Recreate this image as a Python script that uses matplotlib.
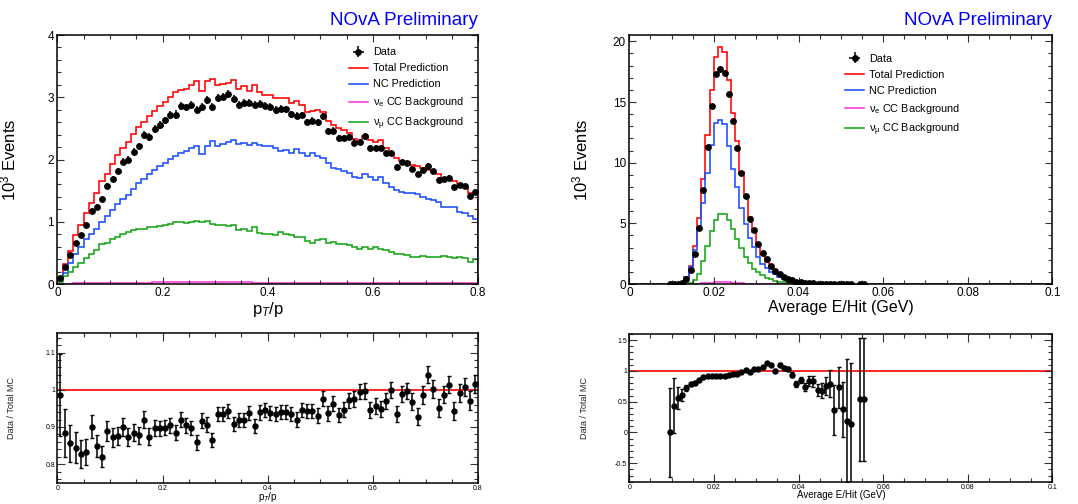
import numpy as np
import matplotlib
matplotlib.use("Agg")
import matplotlib.pyplot as plt
from matplotlib.ticker import MultipleLocator, FuncFormatter

plt.rcParams["font.family"] = ["Liberation Sans", "DejaVu Sans"]
plt.rcParams["mathtext.fontset"] = "custom"
plt.rcParams["mathtext.rm"] = "Liberation Sans"
plt.rcParams["mathtext.it"] = "Liberation Sans:italic"
plt.rcParams["mathtext.bf"] = "Liberation Sans:bold"

# ---------------- pT/p distribution: 80 bins of 0.01 on [0, 0.8] ----------------
pt_edges = np.linspace(0.0, 0.8, 81)

pt_nc = [0.06, 0.18, 0.33, 0.49, 0.60, 0.72, 0.81, 0.89, 1.00, 1.09,
         1.19, 1.29, 1.36, 1.43, 1.52, 1.62, 1.69, 1.77, 1.83, 1.90,
         1.95, 2.01, 2.06, 2.10, 2.13, 2.18, 2.21, 2.09, 2.21, 2.29,
         2.22, 2.25, 2.28, 2.31, 2.25, 2.27, 2.23, 2.26, 2.24, 2.21,
         2.21, 2.18, 2.13, 2.15, 2.11, 2.17, 2.10, 2.05, 2.10, 2.06,
         2.02, 1.94, 1.87, 1.84, 1.82, 1.78, 1.72, 1.71, 1.76, 1.72,
         1.67, 1.72, 1.62, 1.56, 1.51, 1.48, 1.47, 1.46, 1.44, 1.40,
         1.37, 1.35, 1.32, 1.24, 1.24, 1.23, 1.16, 1.14, 1.09, 1.05]

pt_numu = [0.04, 0.13, 0.20, 0.28, 0.34, 0.41, 0.48, 0.55, 0.64, 0.66,
           0.72, 0.76, 0.80, 0.83, 0.86, 0.88, 0.89, 0.91, 0.92, 0.93,
           0.95, 0.97, 0.99, 0.99, 0.98, 0.99, 1.02, 0.99, 1.02, 0.97,
           0.95, 0.94, 0.93, 0.94, 0.86, 0.88, 0.85, 0.91, 0.82, 0.80,
           0.81, 0.79, 0.84, 0.81, 0.78, 0.75, 0.75, 0.69, 0.66, 0.71,
           0.72, 0.66, 0.67, 0.65, 0.64, 0.63, 0.59, 0.56, 0.60, 0.57,
           0.59, 0.57, 0.54, 0.52, 0.49, 0.48, 0.47, 0.44, 0.44, 0.45,
           0.44, 0.44, 0.43, 0.45, 0.43, 0.41, 0.43, 0.41, 0.36, 0.40]

pt_nue = [0.002, 0.005, 0.008, 0.010, 0.012, 0.014, 0.015, 0.016, 0.017, 0.018,
          0.019, 0.020, 0.021, 0.022, 0.022, 0.023, 0.024, 0.024, 0.025, 0.025,
          0.026, 0.026, 0.027, 0.027, 0.028, 0.030, 0.028, 0.027, 0.028, 0.027,
          0.027, 0.026, 0.026, 0.026, 0.025, 0.025, 0.025, 0.024, 0.024, 0.024,
          0.023, 0.023, 0.023, 0.022, 0.022, 0.022, 0.021, 0.021, 0.021, 0.020,
          0.020, 0.020, 0.020, 0.019, 0.019, 0.019, 0.019, 0.018, 0.018, 0.018,
          0.018, 0.017, 0.017, 0.017, 0.017, 0.016, 0.016, 0.016, 0.016, 0.015,
          0.015, 0.015, 0.015, 0.015, 0.014, 0.014, 0.014, 0.014, 0.014, 0.013]

pt_ratio = [0.985, 0.883, 0.856, 0.844, 0.827, 0.833, 0.901, 0.848, 0.820, 0.890,
            0.872, 0.876, 0.900, 0.874, 0.885, 0.877, 0.920, 0.874, 0.897, 0.896,
            0.898, 0.904, 0.885, 0.919, 0.904, 0.897, 0.859, 0.917, 0.906, 0.865,
            0.934, 0.936, 0.943, 0.907, 0.918, 0.918, 0.938, 0.902, 0.939, 0.945,
            0.937, 0.934, 0.941, 0.941, 0.936, 0.920, 0.946, 0.942, 0.944, 0.930,
            0.976, 0.937, 0.963, 0.932, 0.946, 0.972, 0.976, 0.995, 0.997, 0.945,
            0.956, 0.948, 0.969, 1.000, 0.934, 0.988, 0.997, 0.968, 0.928, 0.986,
            1.041, 1.002, 0.951, 0.987, 1.014, 0.942, 0.992, 1.007, 0.971, 1.015]

pt_ratio_err = [0.110, 0.065, 0.050, 0.042, 0.037, 0.035, 0.030, 0.030, 0.028, 0.027,
                0.026, 0.025, 0.025, 0.024, 0.024, 0.023, 0.023, 0.022, 0.022, 0.021,
                0.021, 0.021, 0.021, 0.020, 0.020, 0.020, 0.020, 0.020, 0.020, 0.019,
                0.019, 0.019, 0.019, 0.019, 0.019, 0.019, 0.019, 0.019, 0.019, 0.019,
                0.019, 0.019, 0.019, 0.019, 0.019, 0.019, 0.019, 0.019, 0.019, 0.020,
                0.020, 0.020, 0.020, 0.020, 0.020, 0.020, 0.021, 0.021, 0.021, 0.021,
                0.021, 0.021, 0.022, 0.022, 0.022, 0.022, 0.022, 0.022, 0.022, 0.023,
                0.023, 0.023, 0.023, 0.023, 0.024, 0.024, 0.024, 0.024, 0.025, 0.025]

# ---------------- Average E/Hit: 100 bins of 0.001 GeV on [0, 0.1] ----------------
eh_edges = np.linspace(0.0, 0.1, 101)
eh_first_bin = 9          # arrays below start at bin [0.009, 0.010]

eh_nc = [0.005, 0.01, 0.03, 0.18, 0.55, 1.43, 2.79, 4.52, 6.69, 9.11,
         11.48, 13.26, 13.55, 13.15, 11.37, 9.50, 8.02, 6.24, 4.96, 3.77,
         3.02, 2.19, 1.67, 1.28, 1.00, 0.81, 0.59, 0.44, 0.32, 0.25,
         0.19, 0.145, 0.105, 0.085, 0.06, 0.042, 0.035, 0.03, 0.025, 0.02,
         0.018, 0.015, 0.012, 0.01, 0.008, 0.007, 0.006]

eh_numu = [0.0, 0.0, 0.0, 0.005, 0.02, 0.07, 0.30, 0.85, 1.90, 3.10,
           4.40, 5.30, 5.80, 5.80, 5.30, 4.50, 3.70, 2.95, 2.20, 1.70,
           1.26, 1.00, 0.72, 0.52, 0.38, 0.27, 0.19, 0.14, 0.10, 0.07,
           0.05, 0.035, 0.025, 0.015, 0.01, 0.008, 0.005, 0.004, 0.003, 0.003,
           0.002, 0.002, 0.002, 0.001, 0.001, 0.001, 0.001]

eh_nue = [0.0, 0.0, 0.0, 0.0, 0.0, 0.0, 0.01, 0.03, 0.06, 0.09,
          0.12, 0.14, 0.15, 0.15, 0.13, 0.10, 0.08, 0.06, 0.04, 0.03,
          0.02, 0.015, 0.01, 0.0, 0.0, 0.0, 0.0, 0.0, 0.0, 0.0,
          0.0, 0.0, 0.0, 0.0, 0.0, 0.0, 0.0, 0.0, 0.0, 0.0,
          0.0, 0.0, 0.0, 0.0, 0.0, 0.0, 0.0]

eh_ratio = [0.0, 0.435, 0.565, 0.61, 0.72, 0.79, 0.81, 0.85, 0.90, 0.915,
            0.915, 0.925, 0.91, 0.91, 0.93, 0.95, 0.95, 0.985, 1.01, 0.98,
            1.03, 1.03, 1.065, 1.13, 1.10, 1.005, 1.10, 1.05, 1.03, 0.935,
            0.79, 0.85, 0.74, 0.83, 0.83, 0.69, 0.68, 0.755, 0.79, 0.365,
            0.735, 0.375, 0.19, 0.13, np.nan, 0.54, 0.54]

eh_ratio_err = [0.72, 0.45, 0.18, 0.10, 0.05, 0.03, 0.02, 0.015, 0.012, 0.010,
                0.010, 0.010, 0.010, 0.010, 0.010, 0.010, 0.010, 0.010, 0.010, 0.010,
                0.010, 0.010, 0.012, 0.015, 0.018, 0.020, 0.025, 0.030, 0.035, 0.040,
                0.045, 0.050, 0.070, 0.080, 0.090, 0.100, 0.120, 0.140, 0.220, 0.400,
                0.330, 0.450, 1.00, 1.00, np.nan, 1.00, 1.00]

RED, BLUE, MAGENTA, GREEN = "#ff0000", "#1a4dff", "#ff33dd", "#16a516"
HIST_LW = 1.15
DATA_MS = 3.9
RATIO_MS = 3.6


def full_hist(values, first, nbins):
    out = np.zeros(nbins)
    out[first:first + len(values)] = values
    return out


def root_ticks(ax, major, minor, size=8.5, long=5.0, short=2.6, pad=2.5):
    ax.xaxis.set_major_locator(MultipleLocator(major[0]))
    ax.xaxis.set_minor_locator(MultipleLocator(minor[0]))
    ax.yaxis.set_major_locator(MultipleLocator(major[1]))
    ax.yaxis.set_minor_locator(MultipleLocator(minor[1]))
    fmt = FuncFormatter(lambda v, p: ("%g" % round(v, 6)))
    ax.xaxis.set_major_formatter(fmt)
    ax.yaxis.set_major_formatter(fmt)
    ax.tick_params(which="both", direction="in", top=True, right=True,
                   labelsize=size, width=0.8, color="#333333")
    ax.tick_params(which="major", length=long, pad=pad)
    ax.tick_params(which="minor", length=short)
    for s in ax.spines.values():
        s.set_linewidth(1.1)


def draw_main(ax, edges, nc, numu, nue, ratio, rerr, first):
    nb = len(edges) - 1
    nc_h = full_hist(nc, first, nb)
    numu_h = full_hist(numu, first, nb)
    nue_h = full_hist(nue, first, nb)
    total_h = nc_h + numu_h + nue_h
    centers = 0.5 * (edges[:-1] + edges[1:])

    ax.stairs(total_h, edges, color=RED, lw=HIST_LW, label="Total Prediction")
    ax.stairs(nc_h, edges, color=BLUE, lw=HIST_LW, label="NC Prediction")
    ax.stairs(nue_h, edges, color=MAGENTA, lw=HIST_LW,
              label=r"$\mathregular{\nu_{e}}$ CC Background")
    ax.stairs(numu_h, edges, color=GREEN, lw=HIST_LW,
              label=r"$\mathregular{\nu_{\mu}}$ CC Background")

    # data points sit at ratio x prediction, with the ratio's relative error
    r = np.asarray(ratio, float)
    e = np.asarray(rerr, float)
    sl = slice(first, first + len(r))
    data = r * total_h[sl]
    derr = e * total_h[sl]
    ok = ~np.isnan(data)
    ax.errorbar(centers[sl][ok], data[ok], yerr=derr[ok], fmt="o", ms=DATA_MS,
                color="black", elinewidth=1.1, capsize=0, zorder=5)
    return total_h, centers


def draw_ratio(ax, centers, ratio, rerr, first):
    r = np.asarray(ratio, float)
    e = np.asarray(rerr, float)
    x = centers[first:first + len(r)]
    ok = ~np.isnan(r)
    ax.axhline(1.0, color=RED, lw=1.2, zorder=1)
    ax.errorbar(x[ok], r[ok], yerr=e[ok], fmt="o", ms=RATIO_MS, color="black",
                elinewidth=1.1, capsize=1.4, capthick=1.0, zorder=5)


def legend(ax, anchor):
    h, l = ax.get_legend_handles_labels()
    data_handle = ax.errorbar([np.nan], [np.nan], xerr=[1], yerr=[1], fmt="o",
                              ms=DATA_MS, color="black", elinewidth=1.1)
    ax.legend([data_handle] + h[:4], ["Data"] + l[:4], loc="upper left",
              bbox_to_anchor=anchor, frameon=False, fontsize=7.8,
              handlelength=1.75, handletextpad=0.45, labelspacing=0.55,
              borderaxespad=0, borderpad=0)


fig = plt.figure(figsize=(10.78, 5.04), dpi=100)
ax_tl = fig.add_axes([0.0532, 0.4365, 0.3903, 0.4940])
ax_tr = fig.add_axes([0.5838, 0.4365, 0.3924, 0.4940])
ax_bl = fig.add_axes([0.0532, 0.0423, 0.3903, 0.2964])
ax_br = fig.add_axes([0.5838, 0.0431, 0.3924, 0.2942])

# pT/p panels
tot_pt, cen_pt = draw_main(ax_tl, pt_edges, pt_nc, pt_numu, pt_nue,
                           pt_ratio, pt_ratio_err, 0)
ax_tl.set_xlim(0, 0.8)
ax_tl.set_ylim(0, 4)
root_ticks(ax_tl, (0.2, 1), (0.05, 0.2))
ax_tl.set_ylabel(r"10$^{3}$ Events", fontsize=12)
ax_tl.yaxis.set_label_coords(-0.093, 0.5)
ax_tl.set_xlabel(r"p$_{T}$/p", fontsize=12)
ax_tl.xaxis.set_label_coords(0.5, -0.066)
legend(ax_tl, (0.693, 0.95))

draw_ratio(ax_bl, cen_pt, pt_ratio, pt_ratio_err, 0)
ax_bl.set_xlim(0, 0.8)
ax_bl.set_ylim(0.75, 1.152)
root_ticks(ax_bl, (0.2, 0.1), (0.05, 0.02), size=5, long=6, short=3, pad=1.5)
ax_bl.set_ylabel("Data / Total MC", fontsize=6.5, color="#222222")
ax_bl.yaxis.set_label_coords(-0.098, 0.5)
ax_bl.set_xlabel(r"p$_{T}$/p", fontsize=7)
ax_bl.xaxis.set_label_coords(0.5, -0.05)

# Average E/Hit panels
tot_eh, cen_eh = draw_main(ax_tr, eh_edges, eh_nc, eh_numu, eh_nue,
                           eh_ratio, eh_ratio_err, eh_first_bin)
ax_tr.set_xlim(0, 0.1)
ax_tr.set_ylim(0, 20.52)
root_ticks(ax_tr, (0.02, 5), (0.005, 1))
ax_tr.set_ylabel(r"10$^{3}$ Events", fontsize=12)
ax_tr.yaxis.set_label_coords(-0.091, 0.5)
ax_tr.set_xlabel("Average E/Hit (GeV)", fontsize=11.5)
ax_tr.xaxis.set_label_coords(0.5, -0.066)
legend(ax_tr, (0.51, 0.925))

draw_ratio(ax_br, cen_eh, eh_ratio, eh_ratio_err, eh_first_bin)
ax_br.set_xlim(0, 0.1)
ax_br.set_ylim(-0.81, 1.6)
root_ticks(ax_br, (0.02, 0.5), (0.005, 0.1), size=5, long=6, short=3, pad=1.5)
ax_br.set_ylabel("Data / Total MC", fontsize=6.5, color="#222222")
ax_br.yaxis.set_label_coords(-0.095, 0.5)
ax_br.set_xlabel("Average E/Hit (GeV)", fontsize=7)
ax_br.xaxis.set_label_coords(0.5, -0.05)

for ax in (ax_tl, ax_tr):
    ax.text(1.0, 1.025, "NOvA Preliminary", transform=ax.transAxes,
            ha="right", va="bottom", color="#0000ff", fontsize=13.5)

fig.savefig("out.png", dpi=100)
